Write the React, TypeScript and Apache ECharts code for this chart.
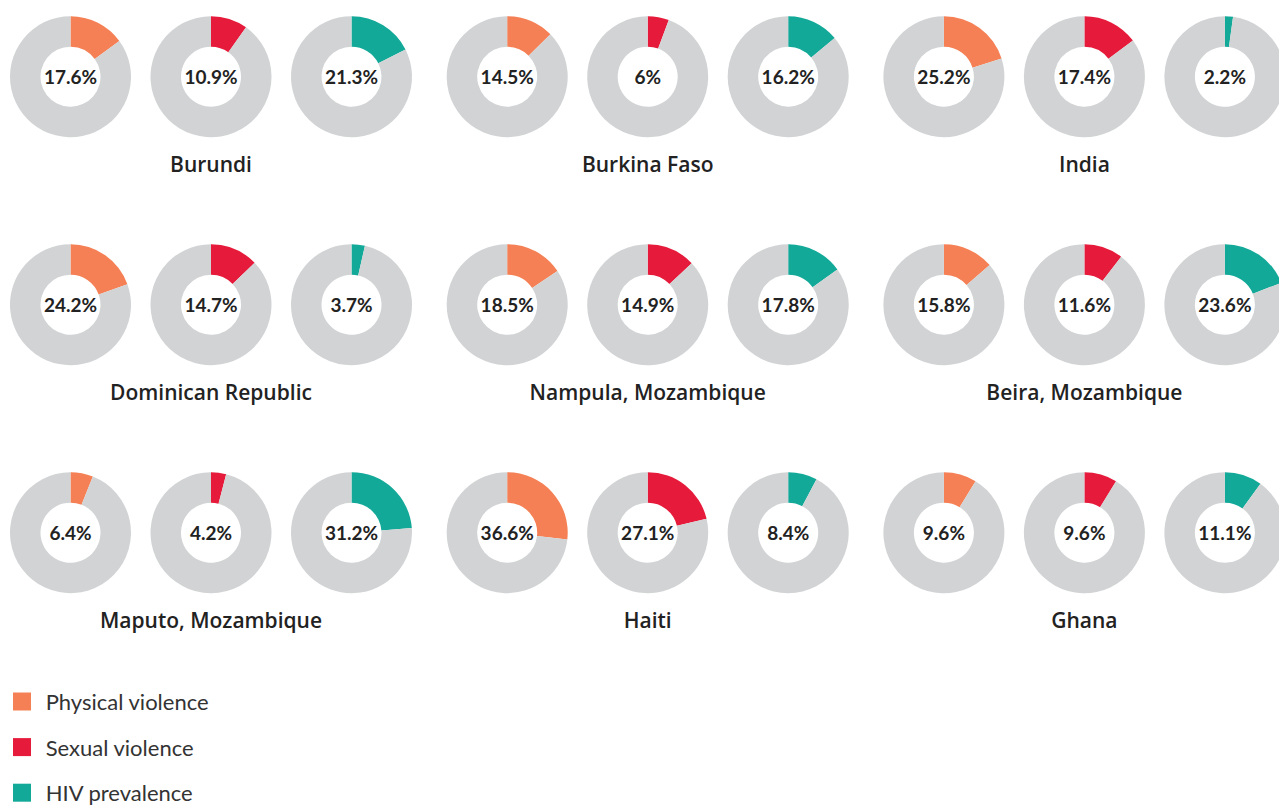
import { useEffect, useRef } from 'react';
import * as echarts from 'echarts';

const countries = [
  'Burundi',
  'Burkina Faso',
  'India',
  'Dominican Republic',
  'Nampula, Mozambique',
  'Beira, Mozambique',
  'Maputo, Mozambique',
  'Haiti',
  'Ghana',
];
const physicalViolence = [17.6, 14.5, 25.2, 24.2, 18.5, 15.8, 6.4, 36.6, 9.6];
const sexualViolence = [10.9, 6, 17.4, 14.7, 14.9, 11.6, 4.2, 27.1, 9.6];
const hivPrevalence = [21.3, 16.2, 2.2, 3.7, 17.8, 23.6, 31.2, 8.4, 11.1];
const indicatorNames = ['Physical violence', 'Sexual violence', 'HIV prevalence'];
const indicatorColors = ['#F58055', '#E61A3A', '#13A999'];
// the reference draws each ring as value against a fixed base of 100
const remainderValue = 100;

export default function App() {
  const ref = useRef<HTMLDivElement>(null);
  useEffect(() => {
    const chart = echarts.init(ref.current!, null, { renderer: 'svg' });
    const indicators = [physicalViolence, sexualViolence, hivPrevalence];
    const series: any[] = [];
    const titles: any[] = [];
    countries.forEach((c, i) => {
      const col = i % 3;
      const row = Math.floor(i / 3);
      const gx = 70.5 + col * 436.7;
      const gy = 76.7 + row * 228;
      indicators.forEach((vals, k) => {
        series.push({
          type: 'pie',
          name: `${c} - ${indicatorNames[k]}`,
          center: [gx + k * 140.5, gy],
          radius: [30, 60.5],
          startAngle: 90,
          clockwise: true,
          silent: true,
          avoidLabelOverlap: false,
          label: { show: false },
          labelLine: { show: false },
          emphasis: { disabled: true },
          itemStyle: { borderWidth: 0 },
          data: [
            {
              name: indicatorNames[k],
              value: vals[i],
              itemStyle: { color: indicatorColors[k] },
              label: {
                show: true,
                position: 'center',
                formatter: '{c}%',
                fontFamily: 'Lato',
                fontWeight: 'bold',
                fontSize: 19,
                color: '#222222',
              },
            },
            {
              name: 'Remainder',
              value: remainderValue,
              itemStyle: { color: '#D1D3D4' },
              label: { show: false },
            },
          ],
        });
      });
      titles.push({
        text: c,
        left: gx + 140.5,
        top: gy + 86.8,
        textAlign: 'center',
        textVerticalAlign: 'middle',
        padding: 0,
        textStyle: {
          fontFamily: 'Open Sans',
          fontWeight: 600,
          fontSize: 21,
          color: '#222222',
        },
      });
    });
    chart.setOption({
      animation: false,
      title: titles,
      legend: {
        orient: 'vertical',
        left: 13,
        top: 690.5,
        height: 150,
        itemWidth: 18,
        itemHeight: 18,
        itemGap: 23.6,
        padding: 0,
        icon: 'rect',
        selectedMode: false,
        data: indicatorNames,
        textStyle: {
          fontFamily: 'Lato',
          fontSize: 22,
          color: '#333333',
          padding: [0, 0, 0, 9.7],
        },
      },
      series,
    });
    return () => chart.dispose();
  }, []);
  return (
    <div
      ref={ref}
      style={{ position: 'fixed', left: 0, top: 0, width: 1279, height: 805, background: '#ffffff' }}
    />
  );
}
